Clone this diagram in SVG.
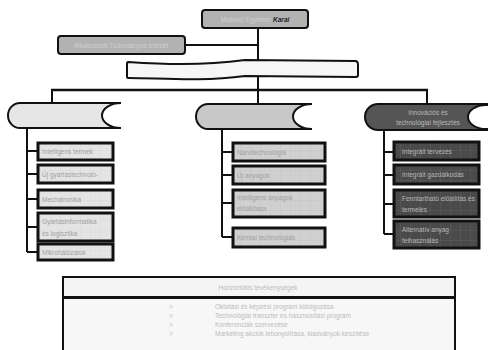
<svg xmlns="http://www.w3.org/2000/svg" width="488" height="350" viewBox="0 0 488 350">
<style>
text{font-family:"Liberation Sans",Arial,sans-serif;font-size:6.5px;fill:#a0a0a0}
.ln{stroke:#111;stroke-width:2;fill:none}
.top{fill:#b2b2b2;stroke:#111;stroke-width:2}
.lb{fill:url(#gl);stroke:#111;stroke-width:3}
.db{fill:url(#gd);stroke:#111;stroke-width:3}
.tt{fill:#d0d0d0}
.dt{fill:#b8b8b8}
.bt{fill:#bcbcbc}
</style>
<defs>
<pattern id="gl" width="10" height="10" patternUnits="userSpaceOnUse">
<rect width="10" height="10" fill="#e4e4e4"/>
<path d="M0 0H10M0 0V10" stroke="#d2d2d2" stroke-width="0.6"/>
</pattern>
<pattern id="gm" width="10" height="10" patternUnits="userSpaceOnUse">
<rect width="10" height="10" fill="#d0d0d0"/>
<path d="M0 0H10M0 0V10" stroke="#c0c0c0" stroke-width="0.6"/>
</pattern>
<pattern id="gd" width="10" height="10" patternUnits="userSpaceOnUse">
<rect width="10" height="10" fill="#4a4a4a"/>
<path d="M0 0H10M0 0V10" stroke="#6a6a6a" stroke-width="0.6"/>
</pattern>
</defs>
<rect width="488" height="350" fill="#fff"/>
<g id="connectors" class="ln">
<path d="M258 28V90"/>
<path d="M185 45H258"/>
<path d="M51 90H428" stroke-width="2.5"/>
<path d="M52 90V103M258 90V104M427 90V104"/>
<path d="M27 128V252M27 151H38M27 174H38M27 199H38M27 227H38M27 252H38"/>
<path d="M222 129V237M222 152H233M222 175H233M222 203H233M222 237H233"/>
<path d="M384 130V234M384 152H394M384 175H394M384 204H394M384 234H394"/>
</g>
<g id="n-top">
<rect class="top" x="202" y="10" width="106" height="18" rx="3"/>
<text class="tt" x="255" y="22" text-anchor="middle">Miskolci Egyetem <tspan style="fill:#222;font-weight:bold;font-style:italic">Karai</tspan></text>
</g>
<g id="n-institute">
<rect class="top" x="58" y="36" width="127" height="18" rx="3"/>
<text class="tt" x="121" y="48" text-anchor="middle">Alkalmazott Tudományos Intézet</text>
</g>
<g id="n-banner">
<path d="M128 62C160 64 200 66 245 60L356 61Q358 62 358 64V75Q358 77 356 77L245 76C200 82 160 78 128 78Q127 78 127 76V64Q127 62 128 62Z" fill="#f6f6f6" stroke="#111" stroke-width="2"/>
</g>
<g id="n-left">
<path d="M20 103H121A19 12.5 0 0 0 121 128H20A12 12.5 0 0 1 20 103Z" fill="#e6e6e6" stroke="#111" stroke-width="2"/>
</g>
<g id="n-mid">
<path d="M208 104H312A19 12.5 0 0 0 312 129H208A12 12.5 0 0 1 208 104Z" fill="#c8c8c8" stroke="#111" stroke-width="2"/>
</g>
<g id="n-right">
<path d="M378 104H492V130H378A13 13 0 0 1 378 104Z" fill="#555" stroke="#111" stroke-width="2"/>
<ellipse cx="486" cy="117" rx="18" ry="12" fill="#fff" stroke="#111" stroke-width="2"/>
<text class="dt" x="428" y="115" text-anchor="middle">Innovációs és</text>
<text class="dt" x="428" y="125" text-anchor="middle">technológiai fejlesztés</text>
</g>
<g id="l1"><rect class="lb" x="38" y="143" width="75" height="17"/><text x="42" y="154">Intelligens termék</text></g>
<g id="l2"><rect class="lb" x="38" y="165" width="75" height="18"/><text x="42" y="177">Új gyártástechnoló-</text></g>
<g id="l3"><rect class="lb" x="38" y="190" width="75" height="18"/><text x="42" y="202">Mechatronika</text></g>
<g id="l4"><rect class="lb" x="38" y="213" width="75" height="28"/><text x="42" y="224">Gyártásinformatika</text><text x="42" y="236">és logisztika</text></g>
<g id="l5"><rect class="lb" x="38" y="244" width="75" height="16"/><text x="42" y="255">Mikrohálózatok</text></g>
<g id="m1"><rect class="lb" x="233" y="143" width="92" height="18" style="fill:url(#gm)"/><text x="237" y="155">Nanotechnológia</text></g>
<g id="m2"><rect class="lb" x="233" y="166" width="92" height="18" style="fill:url(#gm)"/><text x="237" y="178">Új anyagok</text></g>
<g id="m3"><rect class="lb" x="233" y="190" width="92" height="27" style="fill:url(#gm)"/><text x="237" y="200">Intelligens anyagok</text><text x="237" y="211">előállítása</text></g>
<g id="m4"><rect class="lb" x="233" y="228" width="92" height="19" style="fill:url(#gm)"/><text x="237" y="240">Kémiai technológiák</text></g>
<g id="r1"><rect class="db" x="394" y="142" width="85" height="18"/><text class="dt" x="402" y="154">Integrált tervezés</text></g>
<g id="r2"><rect class="db" x="394" y="165" width="85" height="19"/><text class="dt" x="402" y="177">Integrált gazdálkodás</text></g>
<g id="r3"><rect class="db" x="394" y="190" width="85" height="27"/><text class="dt" x="402" y="201">Fenntartható előállítás és</text><text class="dt" x="402" y="212">termelés</text></g>
<g id="r4"><rect class="db" x="394" y="221" width="85" height="27"/><text class="dt" x="402" y="232">Alternatív anyag</text><text class="dt" x="402" y="243">felhasználás</text></g>
<g id="n-bottom">
<rect x="63" y="298" width="392" height="62" fill="#f7f7f7" stroke="#111" stroke-width="2"/>
<rect x="63" y="277" width="392" height="20" fill="#f4f4f4" stroke="#111" stroke-width="2"/>
<text class="bt" x="258" y="290" text-anchor="middle">Horizontális tevékenységek</text>
<text class="bt" x="169" y="309">&gt;</text><text class="bt" x="215" y="309">Oktatási és képzési program kidolgozása</text>
<text class="bt" x="169" y="318">&gt;</text><text class="bt" x="215" y="318">Technológiai transzfer és hasznosítási program</text>
<text class="bt" x="169" y="327">&gt;</text><text class="bt" x="215" y="327">Konferenciák szervezése</text>
<text class="bt" x="169" y="336">&gt;</text><text class="bt" x="215" y="336">Marketing akciók lebonyolítása, kiadványok készítése</text>
</g>
</svg>
